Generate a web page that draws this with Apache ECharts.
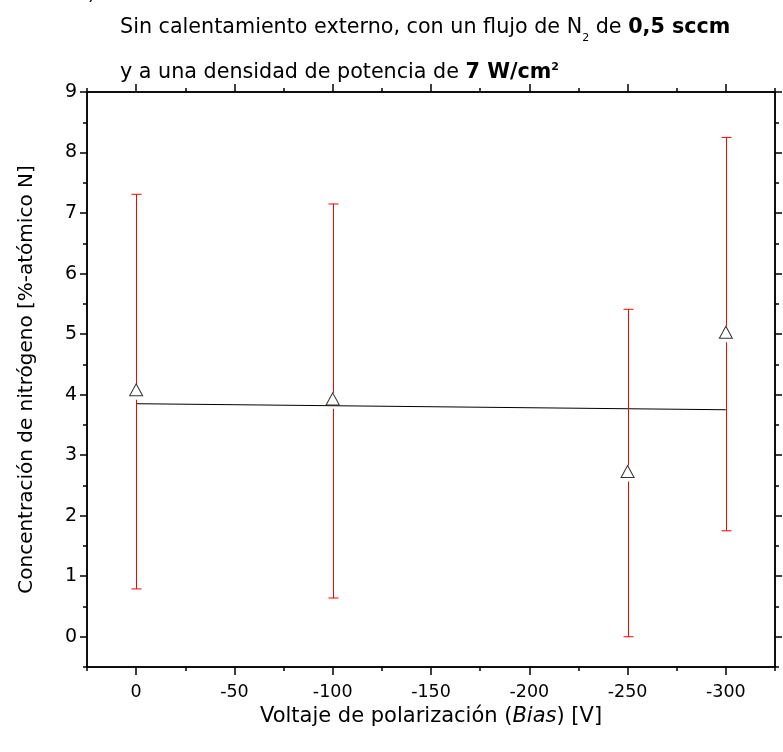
<!DOCTYPE html>
<html>
<head>
<meta charset="utf-8">
<script src="https://cdn.jsdelivr.net/npm/echarts@6/dist/echarts.min.js"></script>
<style>
html,body{margin:0;padding:0;background:#fff;}
#chart{width:783px;height:752px;}
</style>
</head>
<body>
<div id="chart"></div>
<script>
// ---- data ----
const biasValues = [0, -100, -250, -300];
const nitrogenValues = [4.08, 3.93, 2.73, 5.03];
const errorHigh = [7.31, 7.15, 5.41, 8.25];
const errorLow = [0.79, 0.64, 0.0, 1.75];
const fitBias = [0, -300];
const fitValues = [3.85, 3.75];
const xMajorTicks = [0, -50, -100, -150, -200, -250, -300];
const xMinorTicks = [25, -25, -75, -125, -175, -225, -275, -325];
const yMajorTicks = [0, 1, 2, 3, 4, 5, 6, 7, 8, 9];
const yMinorTicks = [-0.5, 0.5, 1.5, 2.5, 3.5, 4.5, 5.5, 6.5, 7.5, 8.5];

const FONT = '"DejaVu Sans"';
const points = biasValues.map((x, i) => [x, nitrogenValues[i]]);
const errData = biasValues.map((x, i) => [x, nitrogenValues[i], errorLow[i], errorHigh[i]]);
const fitData = fitBias.map((x, i) => [x, fitValues[i]]);

const lineStyle = {color: '#000', width: 1.5};

function xAx(gridIndex, position, ticks, len, withLabels) {
  const ax = {
    type: 'value', gridIndex, position, min: -325, max: 25, inverse: true,
    axisLine: {show: true, onZero: false, lineStyle},
    axisTick: {show: true, inside: false, length: len, customValues: ticks, lineStyle},
    axisLabel: {show: withLabels, customValues: xMajorTicks, color: '#000', fontSize: 17.5, fontFamily: FONT, margin: 16},
    splitLine: {show: false}
  };
  if (withLabels) {
    ax.name = '{n|Voltaje de polarización (}{i|Bias}{n|) [V]}';
    ax.nameLocation = 'middle';
    ax.nameGap = 34;
    ax.nameTextStyle = {rich: {
      n: {fontSize: 21, fontFamily: FONT, color: '#000'},
      i: {fontSize: 21, fontFamily: FONT, fontStyle: 'italic', color: '#000'}
    }};
  }
  return ax;
}
function yAx(gridIndex, position, ticks, len, withLabels) {
  const ax = {
    type: 'value', gridIndex, position, min: -0.5, max: 9,
    axisLine: {show: true, onZero: false, lineStyle},
    axisTick: {show: true, inside: false, length: len, customValues: ticks, lineStyle},
    axisLabel: {show: withLabels, customValues: yMajorTicks, color: '#000', fontSize: 19, fontFamily: FONT, margin: 10},
    splitLine: {show: false}
  };
  if (withLabels) {
    ax.name = 'Concentración de nitrógeno [%-atómico N]';
    ax.nameLocation = 'middle';
    ax.nameGap = 50;
    ax.nameTextStyle = {fontSize: 20, fontFamily: FONT, color: '#000'};
  }
  return ax;
}

const gridBox = {left: 87, right: 8, top: 92, bottom: 85, containLabel: false};

const option = {
  animation: false,
  backgroundColor: '#fff',
  grid: [Object.assign({}, gridBox), Object.assign({}, gridBox)],
  xAxis: [
    xAx(0, 'bottom', xMajorTicks, 8, true),
    xAx(0, 'top', xMajorTicks, 8, false),
    xAx(1, 'bottom', xMinorTicks, 4, false),
    xAx(1, 'top', xMinorTicks, 4, false)
  ],
  yAxis: [
    yAx(0, 'left', yMajorTicks, 7, true),
    yAx(0, 'right', yMajorTicks, 7, false),
    yAx(1, 'left', yMinorTicks, 4, false),
    yAx(1, 'right', yMinorTicks, 4, false)
  ],
  graphic: [
    {type: 'text', left: 120, top: 17, style: {
      text: '{n|Sin calentamiento externo, con un flujo de N}{s|2}{n| de }{b|0,5 sccm}',
      rich: {
        n: {fontSize: 20.7, fontFamily: FONT, fill: '#000', verticalAlign: 'bottom'},
        s: {fontSize: 11, fontFamily: FONT, fill: '#000', verticalAlign: 'bottom', padding: [0, 0, -6, 0]},
        b: {fontSize: 20.7, fontFamily: FONT, fontWeight: 'bold', fill: '#000', verticalAlign: 'bottom'}
      }
    }},
    {type: 'text', left: 120, top: 62, style: {
      text: '{n|y a una densidad de potencia de }{b|7 W/cm}{p|2}',
      rich: {
        n: {fontSize: 20.7, fontFamily: FONT, fill: '#000', verticalAlign: 'bottom'},
        b: {fontSize: 20.7, fontFamily: FONT, fontWeight: 'bold', fill: '#000', verticalAlign: 'bottom'},
        p: {fontSize: 11, fontFamily: FONT, fontWeight: 'bold', fill: '#000', verticalAlign: 'top', padding: [0, 0, 10, 0]}
      }
    }},
    {type: 'text', left: 88, top: -14, style: {text: ')', fontSize: 18, fontFamily: FONT, fill: '#000'}}
  ],
  series: [
    {
      type: 'line', xAxisIndex: 0, yAxisIndex: 0, data: fitData,
      showSymbol: false, symbol: 'none',
      lineStyle: {color: '#000', width: 1}, z: 2
    },
    {
      type: 'custom', xAxisIndex: 0, yAxisIndex: 0, data: errData, z: 3,
      renderItem: function (params, api) {
        const x = api.value(0);
        const c = api.coord([x, api.value(1)]);
        const lo = api.coord([x, api.value(2)]);
        const hi = api.coord([x, api.value(3)]);
        const px = Math.round(hi[0]) + 0.5;
        const cap = 5;
        const st = {stroke: '#ff0000', lineWidth: 1};
        const children = [
          {type: 'line', shape: {x1: px, y1: hi[1], x2: px, y2: c[1] - 6}, style: st},
          {type: 'line', shape: {x1: px, y1: c[1] + 10, x2: px, y2: lo[1]}, style: st},
          {type: 'line', shape: {x1: px - cap, y1: hi[1], x2: px + cap, y2: hi[1]}, style: st},
          {type: 'line', shape: {x1: px - cap, y1: lo[1], x2: px + cap, y2: lo[1]}, style: st}
        ];
        return {type: 'group', children};
      }
    },
    {
      type: 'scatter', xAxisIndex: 0, yAxisIndex: 0, data: points, z: 4,
      symbol: 'triangle', symbolSize: [13, 12],
      itemStyle: {color: 'rgba(255,255,255,0)', borderColor: '#000', borderWidth: 1}
    }
  ]
};

const chart = echarts.init(document.getElementById('chart'), null, {renderer: 'canvas'});
chart.setOption(option);
</script>
</body>
</html>
